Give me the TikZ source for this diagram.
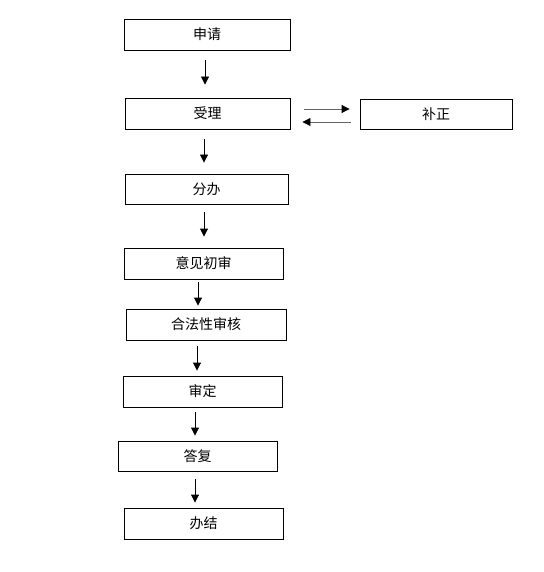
\documentclass[tikz,border=0pt]{standalone}
\usepackage{fontspec}
\setmainfont{Noto Sans CJK SC}
\usetikzlibrary{arrows.meta}
\begin{document}
\begin{tikzpicture}[x=1pt,y=-1pt,
  box/.style={draw=black,line width=0.9pt,fill=white,inner sep=0pt,
    minimum width=#1,minimum height=31pt,font=\fontsize{14}{14}\selectfont},
  arr/.style={draw=black,line width=0.9pt,-{Triangle[width=8pt,length=8pt,black]}}]
\useasboundingbox[fill=white] (0,0) rectangle (543,572);
\node[box=166pt] (n1) at (207,34.5) {申请};
\node[box=165pt] (n2) at (207.5,113.5) {受理};
\node[box=152pt,minimum height=30pt] (n3) at (436,114) {补正};
\node[box=163pt,minimum height=30pt] (n4) at (206.5,189) {分办};
\node[box=159pt] (n5) at (203.5,263.5) {意见初审};
\node[box=160pt] (n6) at (206,324.5) {合法性审核};
\node[box=159pt] (n7) at (202.5,391.5) {审定};
\node[box=159pt,minimum height=30pt] (n8) at (197.5,456) {答复};
\node[box=159pt] (n9) at (203.5,523.5) {办结};
\draw[arr,shorten <=10pt,shorten >=13pt] ([xshift=-2pt]n1.south) -- ([xshift=-2pt]n1.south |- n2.north);
\draw[arr,shorten <=10pt,shorten >=11pt] ([xshift=-3.5pt]n2.south) -- ([xshift=-3.5pt]n2.south |- n4.north);
\draw[arr,shorten <=8pt,shorten >=11pt] ([xshift=-2.5pt]n4.south) -- ([xshift=-2.5pt]n4.south |- n5.north);
\draw[arr,shorten <=3pt,shorten >=3pt] ([xshift=-5.5pt]n5.south) -- ([xshift=-5.5pt]n5.south |- n6.north);
\draw[arr,shorten <=6pt,shorten >=5pt] ([xshift=-9pt]n6.south) -- ([xshift=-9pt]n6.south |- n7.north);
\draw[arr,shorten <=5pt,shorten >=5pt] ([xshift=-7.5pt]n7.south) -- ([xshift=-7.5pt]n7.south |- n8.north);
\draw[arr,shorten <=8pt,shorten >=5pt] ([xshift=-2.5pt]n8.south) -- ([xshift=-2.5pt]n8.south |- n9.north);
\draw[arr,draw=black!60,shorten <=14pt,shorten >=10pt] ([yshift=4.5pt]n2.east) -- ([yshift=4.5pt]n2.east -| n3.west);
\draw[arr,draw=black!60,shorten <=9pt,shorten >=12pt] ([yshift=-8.5pt]n2.east -| n3.west) -- ([yshift=-8.5pt]n2.east);
\end{tikzpicture}
\end{document}
